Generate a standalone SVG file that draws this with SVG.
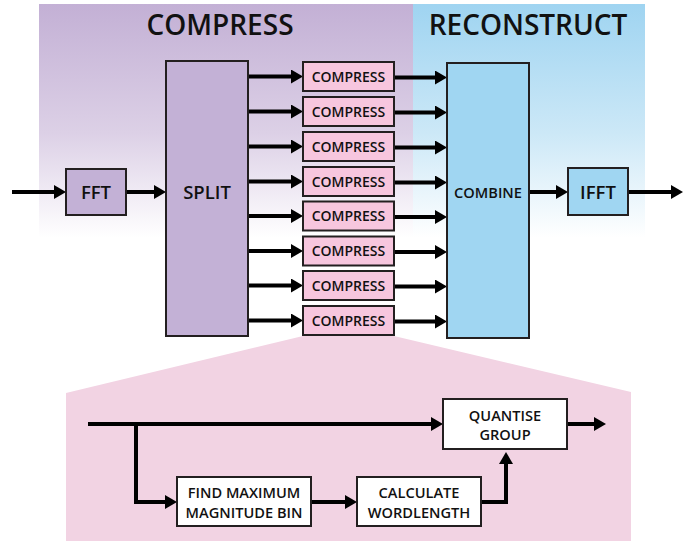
<svg xmlns="http://www.w3.org/2000/svg" width="691" height="541" viewBox="0 0 691 541">
<defs>
<linearGradient id="gp" x1="0" y1="0" x2="0" y2="1">
<stop offset="0" stop-color="#c3b0d5"/>
<stop offset="0.55" stop-color="#dcd0e6"/>
<stop offset="1" stop-color="#ffffff"/>
</linearGradient>
<linearGradient id="gb" x1="0" y1="0" x2="0" y2="1">
<stop offset="0" stop-color="#9fd4f1"/>
<stop offset="0.55" stop-color="#cce8f7"/>
<stop offset="1" stop-color="#ffffff"/>
</linearGradient>
<marker id="ah" markerUnits="userSpaceOnUse" markerWidth="13" markerHeight="14" refX="6" refY="7" orient="auto">
<path d="M0,0 L12,7 L0,14 Z" fill="#000"/>
</marker>
<style>
.box{stroke:#231f20;stroke-width:2}
.p{fill:#c3b1d6}
.b{fill:#a0d6f2}
.k{fill:#f7c6de}
.w{fill:#ffffff}
.t{font-family:"Open Sans","Liberation Sans",sans-serif;font-weight:600;fill:#111;text-anchor:middle}
.s{font-size:14px}
.i{font-size:14.6px}
.m{font-size:18.5px}
.h{font-size:28px}
.c{fill:none;stroke:#000;stroke-width:4}
.a{marker-end:url(#ah)}
</style>
</defs>
<g id="panels">
<rect x="39" y="4" width="374" height="234" fill="url(#gp)"/>
<rect x="413" y="4" width="232" height="234" fill="url(#gb)"/>
<polygon points="303,336 394,336 631,392 631,541 66,541 66,393" fill="#f2d3e3"/>
<text class="t h" x="220" y="35">COMPRESS</text>
<text class="t h" x="528" y="35">RECONSTRUCT</text>
</g>
<g id="connectors">
<path class="c a" d="M12,192 H60"/>
<path class="c a" d="M126,192 H160"/>
<path class="c a" d="M248,76.5 H297"/>
<path class="c a" d="M248,111.5 H297"/>
<path class="c a" d="M248,146.5 H297"/>
<path class="c a" d="M248,181.5 H297"/>
<path class="c a" d="M248,216 H297"/>
<path class="c a" d="M248,251 H297"/>
<path class="c a" d="M248,285.5 H297"/>
<path class="c a" d="M248,320.5 H297"/>
<path class="c a" d="M394,77.5 H441"/>
<path class="c a" d="M394,112.5 H441"/>
<path class="c a" d="M394,147.5 H441"/>
<path class="c a" d="M394,182.5 H441"/>
<path class="c a" d="M394,217 H441"/>
<path class="c a" d="M394,252 H441"/>
<path class="c a" d="M394,286.5 H441"/>
<path class="c a" d="M394,321.5 H441"/>
<path class="c a" d="M529,192 H562"/>
<path class="c a" d="M628,192 H677"/>
<path class="c a" d="M88,424 H437"/>
<path class="c a" d="M136,424 V502 H171"/>
<path class="c a" d="M311,502 H351"/>
<path class="c a" d="M481,502 H506 V458"/>
<path class="c a" d="M567,424 H600"/>
</g>
<g id="fft"><rect class="box p" x="66" y="169" width="60" height="46"/><text class="t m" x="96" y="198.5">FFT</text></g>
<g id="split"><rect class="box p" x="166" y="61" width="82" height="275"/><text class="t m" x="207" y="198.5">SPLIT</text></g>
<g id="compress1"><rect class="box k" x="303" y="62" width="91" height="29"/><text class="t s" x="348.5" y="81.5">COMPRESS</text></g>
<g id="compress2"><rect class="box k" x="303" y="97" width="91" height="29"/><text class="t s" x="348.5" y="116.5">COMPRESS</text></g>
<g id="compress3"><rect class="box k" x="303" y="132" width="91" height="29"/><text class="t s" x="348.5" y="151.5">COMPRESS</text></g>
<g id="compress4"><rect class="box k" x="303" y="167" width="91" height="29"/><text class="t s" x="348.5" y="186.5">COMPRESS</text></g>
<g id="compress5"><rect class="box k" x="303" y="201.5" width="91" height="29"/><text class="t s" x="348.5" y="221">COMPRESS</text></g>
<g id="compress6"><rect class="box k" x="303" y="236.5" width="91" height="29"/><text class="t s" x="348.5" y="256">COMPRESS</text></g>
<g id="compress7"><rect class="box k" x="303" y="271" width="91" height="29"/><text class="t s" x="348.5" y="290.5">COMPRESS</text></g>
<g id="compress8"><rect class="box k" x="303" y="306" width="91" height="29"/><text class="t s" x="348.5" y="325.5">COMPRESS</text></g>
<g id="combine"><rect class="box b" x="447" y="63" width="82" height="275"/><text class="t i" x="488" y="197.5">COMBINE</text></g>
<g id="ifft"><rect class="box b" x="568" y="168" width="60" height="47"/><text class="t m" x="598" y="198.5">IFFT</text></g>
<g id="quantise"><rect class="box w" x="443" y="399" width="124" height="50"/><text class="t i" x="505" y="420.5">QUANTISE</text><text class="t i" x="505" y="440">GROUP</text></g>
<g id="findmax"><rect class="box w" x="177" y="477" width="134" height="49"/><text class="t i" x="244" y="498">FIND MAXIMUM</text><text class="t i" x="244" y="517.5">MAGNITUDE BIN</text></g>
<g id="calculate"><rect class="box w" x="357" y="477" width="124" height="49"/><text class="t i" x="419" y="498">CALCULATE</text><text class="t i" x="419" y="517.5">WORDLENGTH</text></g>
</svg>
